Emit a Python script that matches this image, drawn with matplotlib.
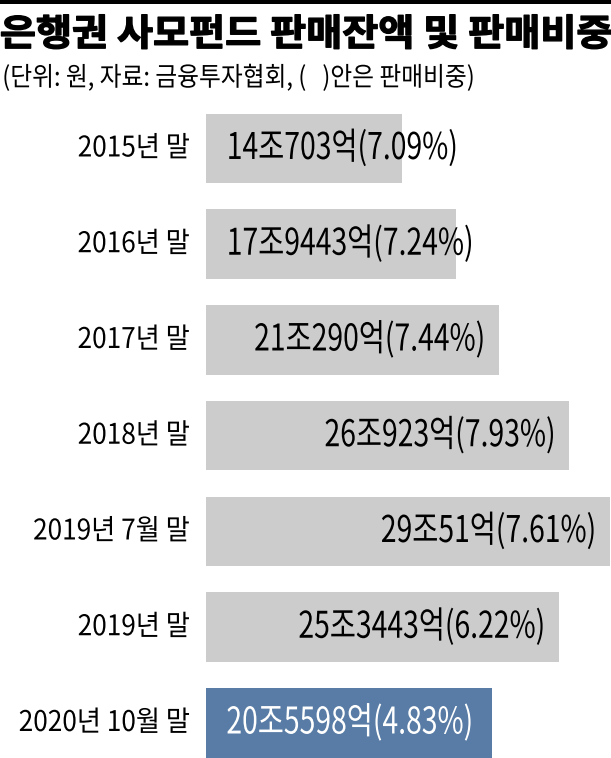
import matplotlib
matplotlib.use("Agg")
from matplotlib import pyplot as plt
from matplotlib.patheffects import AbstractPathEffect
from matplotlib.transforms import Affine2D

plt.rcParams['font.family'] = ['Noto Sans CJK KR', 'DejaVu Sans']

# 데이터 (단위: 조원)
periods = ["2015년 말", "2016년 말", "2017년 말", "2018년 말",
           "2019년 7월 말", "2019년 말", "2020년 10월 말"]
amounts = [14.0703, 17.9443, 21.0290, 26.0923, 29.0051, 25.3443, 20.5598]
amount_labels = ["14조703억", "17조9443억", "21조290억", "26조923억",
                 "29조51억", "25조3443억", "20조5598억"]
shares = [7.09, 7.24, 7.44, 7.93, 7.61, 6.22, 4.83]

title = "은행권 사모펀드 판매잔액 및 판매비중"
subtitle = "(단위: 원, 자료: 금융투자협회, (   )안은 판매비중)"

GRAY = "#cccccc"
BLUE = "#587ca5"


class Squeeze(AbstractPathEffect):
    """글자 장평 조절 (+ 굵기 보강용 외곽선)"""

    def __init__(self, sx, anchor="left", lw=0):
        super().__init__()
        self.sx = sx
        self.anchor = anchor
        self.lw = lw

    def draw_path(self, renderer, gc, tpath, affine, rgbFace=None):
        ext = tpath.transformed(affine).get_extents()
        x0 = {"left": ext.x0, "right": ext.x1, "center": (ext.x0 + ext.x1) / 2}[self.anchor]
        t = affine + Affine2D().translate(-x0, 0).scale(self.sx, 1).translate(x0, 0)
        gc0 = renderer.new_gc()
        gc0.copy_properties(gc)
        if self.lw and rgbFace is not None:
            gc0.set_linewidth(self.lw)
            gc0.set_foreground(rgbFace)
        renderer.draw_path(gc0, tpath, t, rgbFace)
        gc0.restore()


W, H = 611, 758
fig = plt.figure(figsize=(W / 100, H / 100), dpi=100)
fig.patch.set_facecolor("white")

# 맨 위 검은 줄
fig.add_artist(plt.Rectangle((0, 1 - 4 / H), 1, 4 / H, transform=fig.transFigure,
                             color="black", lw=0))

fig.text(0 / W, 1 - 35 / H, title, fontsize=26.5, fontweight="black", ha="left", va="center",
         path_effects=[Squeeze(1.065, "left", lw=1.0)])
fig.text(2 / W, 1 - 78 / H, subtitle, fontsize=19, ha="left", va="center",
         path_effects=[Squeeze(0.90, "left")])

ax_top = 100.6
ax = fig.add_axes([206 / W, 0, 405 / W, (H - ax_top) / H])
y = list(range(len(periods)))
colors = [GRAY] * (len(periods) - 1) + [BLUE]
ax.barh(y, amounts, height=0.726, color=colors, lw=0)
ax.set_xlim(0, 405 / 13.92)
ax.set_ylim((H - 148.5) / 95.75, -0.5)
ax.axis("off")

for i in y:
    ax.annotate(periods[i], xy=(0, i), xytext=(-16, 0), textcoords="offset pixels",
                ha="right", va="center", fontsize=20.5, color="black",
                path_effects=[Squeeze(0.92, "right")], annotation_clip=False)
    label = "{}({:.2f}%)".format(amount_labels[i], shares[i])
    tc = "white" if colors[i] == BLUE else "black"
    if amounts[i] < 21:
        ax.annotate(label, xy=(0, i), xytext=(20, 0), textcoords="offset pixels",
                    ha="left", va="center", fontsize=26.5, color=tc,
                    path_effects=[Squeeze(0.77, "left")])
    else:
        ax.annotate(label, xy=(amounts[i], i), xytext=(-13, 0), textcoords="offset pixels",
                    ha="right", va="center", fontsize=26.5, color=tc,
                    path_effects=[Squeeze(0.77, "right")])

fig.savefig("out.png", dpi=100)
